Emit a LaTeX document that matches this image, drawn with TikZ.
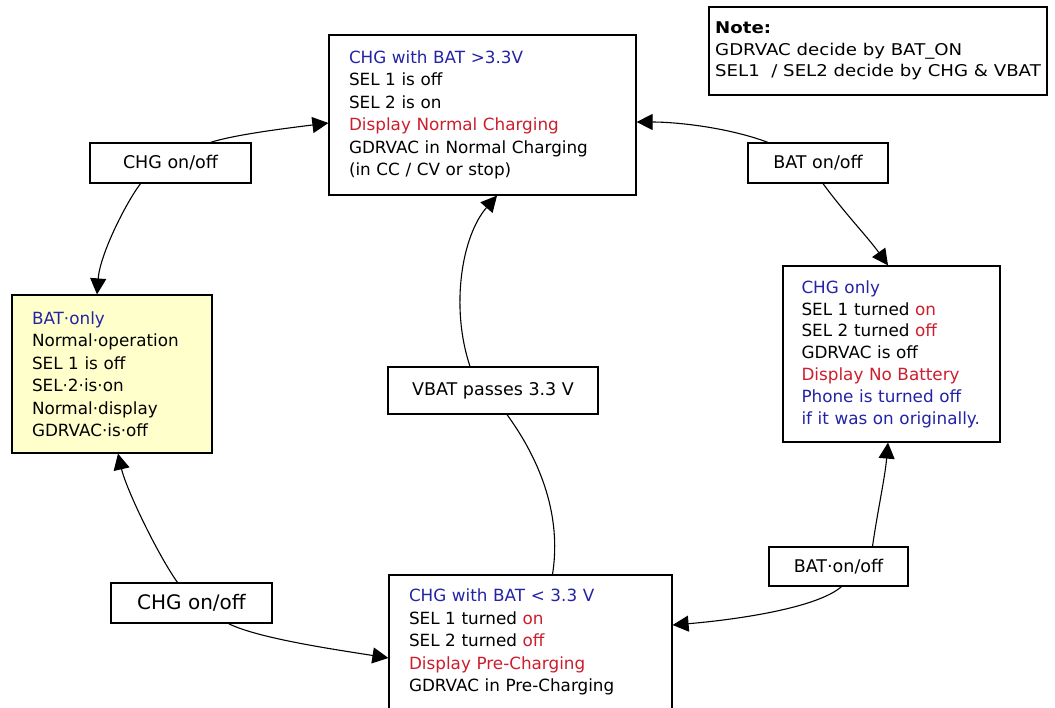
\documentclass[tikz,border=0pt]{standalone}
\usepackage{fontspec}
\setmainfont{DejaVu Sans}
\newfontfamily\notefont{DejaVu Sans}[FakeStretch=1.12]
\usetikzlibrary{calc,arrows.meta}
\definecolor{stateblue}{RGB}{35,35,165}
\definecolor{statered}{RGB}{205,30,45}
\definecolor{batyellow}{RGB}{255,255,204}

\begin{document}
\begin{tikzpicture}[x=1pt,y=-1pt,
    statebox/.style={draw, line width=1.2pt, fill=white, align=left, inner xsep=20pt, inner ysep=0pt,
      font=\fontsize{16.8}{22.5}\selectfont},
    condbox/.style={draw, line width=1.2pt, fill=white, align=center, inner sep=0pt, minimum height=40pt,
      font=\fontsize{17.5}{20}\selectfont},
    trans/.style={line width=1.1pt, -{Triangle[length=16pt,width=16pt]}}]

    \useasboundingbox (0,0) rectangle (1055,707);
    \fill[white] (0,0) rectangle (1055,707);
    \clip (0,0) rectangle (1055,707);

    \node[statebox, text width=267pt, minimum height=160pt] (normchg) at (482.5,115)
        {{\color{stateblue}CHG with BAT >3.3V}\\SEL 1 is off\\SEL 2 is on\\{\color{statered}Display Normal Charging}\\GDRVAC in Normal Charging\\(in CC / CV or stop)};
    \node[statebox, fill=batyellow, text width=160pt, minimum height=158pt] (batonly) at (112,374)
        {{\color{stateblue}BAT·only}\\Normal·operation\\SEL 1 is off\\SEL·2·is·on\\Normal·display\\GDRVAC·is·off};
    \node[statebox, inner xsep=18.5pt, text width=180pt, minimum height=176pt, font=\fontsize{16.8}{21.8}\selectfont] (chgonly) at (891.5,354)
        {{\color{stateblue}CHG only}\\SEL 1 turned {\color{statered}on}\\SEL 2 turned {\color{statered}off}\\GDRVAC is off\\{\color{statered}Display No Battery}\\{\color{stateblue}Phone is turned off}\\{\color{stateblue}if it was on originally.}};
    \node[statebox, text width=243pt, minimum height=134pt] (prechg) at (530.5,642)
        {{\color{stateblue}CHG with BAT < 3.3 V}\\SEL 1 turned {\color{statered}on}\\SEL 2 turned {\color{statered}off}\\{\color{statered}Display Pre-Charging}\\GDRVAC in Pre-Charging};
    \node[draw, line width=1.2pt, align=left, inner sep=0pt, minimum width=338pt, minimum height=88pt,
        font=\notefont\fontsize{16.2}{21.5}\selectfont] (note) at (878,51)
        {{\bfseries Note:}\\GDRVAC decide by BAT\_ON\\SEL1 \ / SEL2 decide by CHG \& VBAT};

    \node[condbox, minimum width=161pt] (chgtop) at (170.5,163) {CHG on/off};
    \node[condbox, minimum width=140pt] (battop) at (818,163) {BAT on/off};
    \node[condbox, minimum width=210pt, minimum height=47pt] (vbat) at (493,390.5) {VBAT passes 3.3 V};
    \node[condbox, minimum width=139pt, minimum height=39pt] (batbot) at (838.5,566.5) {BAT·on/off};
    \node[condbox, minimum width=161pt, font=\fontsize{20}{22}\selectfont] (chgbot) at (191.5,603) {CHG on/off};

    \draw[trans] ($(chgtop.north)+(40,0)$) .. controls +(25,-8) and +(-40,5) .. ($(normchg.west)+(0,8)$);
    \draw[trans] ($(chgtop.south)+(-30,0)$) .. controls +(-15,20) and +(3,-40) .. ($(batonly.north)+(-15,0)$);
    \draw[trans] ($(battop.north)+(-50,0)$) .. controls +(-40,-15) and +(40,0) .. ($(normchg.east)+(0,7)$);
    \draw[trans] ($(battop.south)+(5,0)$) .. controls +(22,30) and +(-20,-28) .. ($(chgonly.north)+(-3.5,0)$);
    \draw[trans] ($(vbat.north)+(-23,0)$) .. controls +(-20,-60) and +(-35,40) .. ($(normchg.south)+(14.5,0)$);
    \draw[line width=1.1pt] ($(vbat.south)+(14,0)$) .. controls +(40,55) and +(8,-50) .. ($(prechg.north)+(22,0)$);
    \draw[trans] ($(batbot.north)+(34,0)$) .. controls +(5,-35) and +(-3,35) .. ($(chgonly.south)+(-3.5,0)$);
    \draw[trans] ($(batbot.south)+(3,0)$) .. controls +(-25,22) and +(60,-5) .. ($(prechg.east)+(0,-17)$);
    \draw[trans] ($(chgbot.north)+(-14,0)$) .. controls +(-20,-28) and +(8,35) .. ($(batonly.south)+(6,0)$);
    \draw[trans] ($(chgbot.south)+(37,0)$) .. controls +(30,15) and +(-50,-8) .. ($(prechg.west)+(0,16)$);
\end{tikzpicture}
\end{document}
